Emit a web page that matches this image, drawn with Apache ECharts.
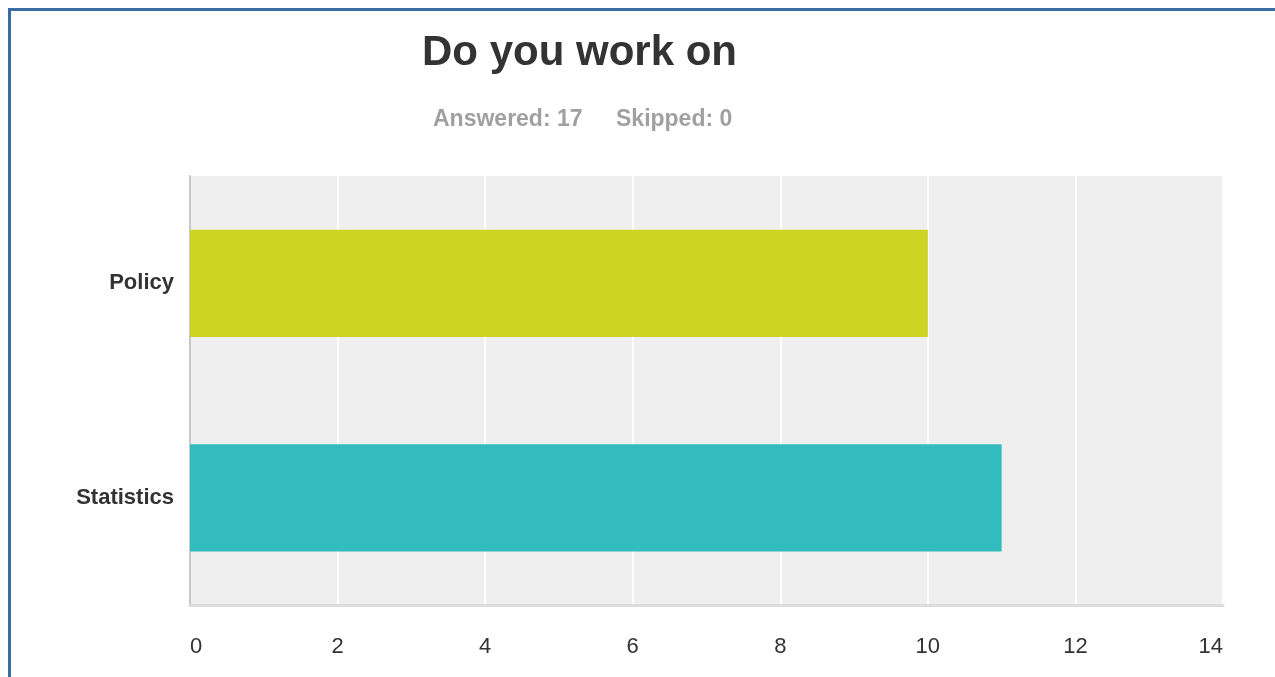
<!DOCTYPE html>
<html>
<head>
<meta charset="utf-8">
<script src="https://cdn.jsdelivr.net/npm/echarts@6/dist/echarts.min.js"></script>
<style>
    html, body { margin: 0; padding: 0; background: #fff; }
    #frame {
        position: absolute; left: 8px; top: 8px; width: 1300px; height: 700px;
        border-left: 3px solid #3a6ca4; border-top: 3px solid #3a6ca4;
    }
    #chart { position: absolute; left: 0; top: 0; width: 1275px; height: 677px; }
</style>
</head>
<body>
<div id="frame"></div>
<div id="chart"></div>
<script>
// 数据
var categories = ['Policy', 'Statistics'];
var values = [10, 11];
var barColors = ['#cdd424', '#32bcbe'];
var answered = 17;
var skipped = 0;
var xTicks = [0, 14, 2]; // min, max, interval

var myChart = echarts.init(document.getElementById('chart'));

var option = {
    animation: false,
    textStyle: { fontFamily: '"Liberation Sans", Arial, sans-serif' },
    title: [
        {
            text: 'Do you work on',
            left: 422, top: 32, padding: 0,
            textStyle: { fontSize: 42, fontWeight: 'bold', color: '#333' }
        },
        {
            text: 'Answered: ' + answered,
            left: 433, top: 108, padding: 0,
            textStyle: { fontSize: 23, fontWeight: 'bold', color: '#a0a0a0' }
        },
        {
            text: 'Skipped: ' + skipped,
            left: 616, top: 108, padding: 0,
            textStyle: { fontSize: 23, fontWeight: 'bold', color: '#a0a0a0' }
        }
    ],
    grid: {
        left: 190, top: 176, width: 1033, height: 429,
        show: true, backgroundColor: '#efefef', borderWidth: 0,
        containLabel: false
    },
    xAxis: {
        type: 'value',
        min: xTicks[0], max: xTicks[1], interval: xTicks[2],
        axisLine: { show: true, lineStyle: { color: '#dcdcdc', width: 3 } },
        axisTick: { show: false },
        splitLine: { show: true, lineStyle: { color: '#ffffff', width: 2 } },
        axisLabel: {
            color: '#333', fontSize: 22, margin: 31,
            alignMinLabel: 'left', alignMaxLabel: 'right'
        }
    },
    yAxis: {
        type: 'category',
        inverse: true,
        data: categories,
        axisLine: { show: true, lineStyle: { color: '#c8c8c8', width: 2 } },
        axisTick: { show: false },
        axisLabel: { color: '#333', fontSize: 22, fontWeight: 'bold', margin: 16, padding: [8, 0, 0, 0] }
    },
    series: [{
        type: 'bar',
        barWidth: '50%',
        data: values.map(function (v, i) {
            return { value: v, itemStyle: { color: barColors[i] } };
        })
    }]
};

myChart.setOption(option);
</script>
</body>
</html>
